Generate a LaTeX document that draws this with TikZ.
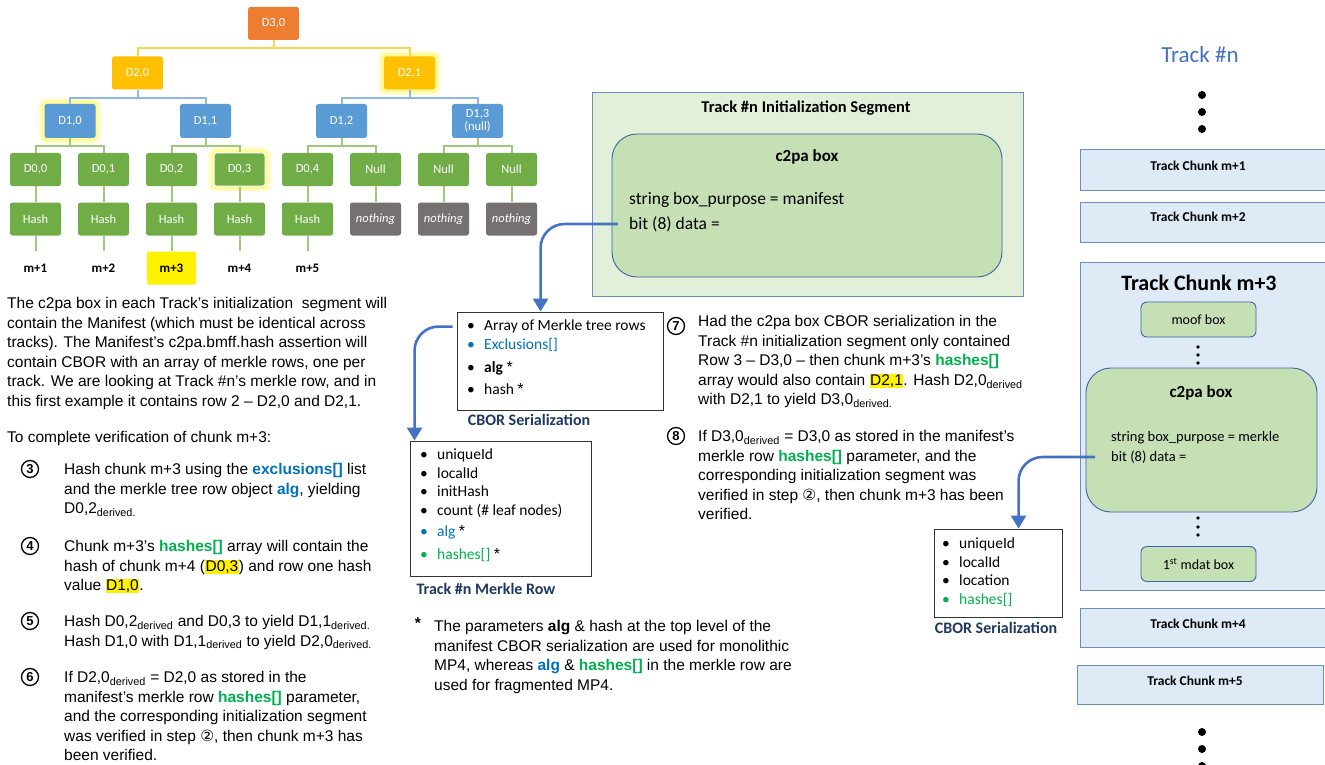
\documentclass[tikz,border=0pt]{standalone}
\usepackage{fontspec}
\setmainfont{Liberation Sans}
\newfontfamily\calfont[Ligatures=TeX]{Carlito}
\newfontfamily\symfont{DejaVu Sans}
\usetikzlibrary{arrows.meta,positioning}

\definecolor{nodeorange}{HTML}{ED7D31}
\definecolor{nodegold}{HTML}{FFC000}
\definecolor{nodeblue}{HTML}{5B9BD5}
\definecolor{nodegreen}{HTML}{70AD47}
\definecolor{nodegray}{HTML}{767171}
\definecolor{edgegold}{HTML}{FFD34D}
\definecolor{edgeblue}{HTML}{8DB8E2}
\definecolor{edgegreen}{HTML}{9CCB7C}
\definecolor{txtblue}{HTML}{0070C0}
\definecolor{txtgreen}{HTML}{00B050}
\definecolor{labelblue}{HTML}{1F3864}
\definecolor{flowblue}{HTML}{4472C4}
\definecolor{segfill}{HTML}{E2F0D9}
\definecolor{boxfill}{HTML}{C5E0B4}
\definecolor{chunkfill}{HTML}{DEEBF7}
\definecolor{frameblue}{HTML}{6C8EBF}
\definecolor{darkframe}{HTML}{3F62A0}

\newcommand{\tbox}[6][]{\node[treebox, fill=#5, #1] (#2) at (#3,#4) {#6};}
\newcommand{\stepnum}[4]{\node[stepcirc] (#1) at (#2,#3) {#4};}
\newcommand{\blu}[1]{\textbf{\color{txtblue}#1}}
\newcommand{\grn}[1]{\textbf{\color{txtgreen}#1}}
\newcommand{\hl}[1]{{\setlength{\fboxsep}{0.5pt}\colorbox{yellow}{#1}}}
\newcommand{\dv}{\textsubscript{derived}}
\newcommand{\bul}[2][black]{\makebox[17pt][l]{\color{#1}\textbullet}{\color{#1}#2}}
\newcommand{\starmark}{{\color{black}\normalfont\fontsize{16}{16}\selectfont *}}
\newcommand{\bigdot}[2]{\fill (#1,#2) circle (4pt);}
\newcommand{\smalldot}[2]{\fill (#1,#2) circle (1.8pt);}

\tikzset{
  treebox/.style={rounded corners=2.5pt, minimum width=51pt, minimum height=33pt, inner sep=1pt,
    text=white, align=center, font=\calfont\fontsize{12.5}{13}\selectfont},
  glow/.style={preaction={draw=yellow, line width=12pt, draw opacity=0.15},
    preaction={draw=yellow, line width=7pt, draw opacity=0.3}},
  goldedge/.style={draw=edgegold, line width=2pt},
  blueedge/.style={draw=edgeblue, line width=2pt},
  greenedge/.style={draw=edgegreen, line width=2pt},
  leaflabel/.style={minimum width=49pt, minimum height=33pt, inner sep=0pt, rounded corners=2pt,
    font=\calfont\bfseries\fontsize{13}{13}\selectfont},
  bodytext/.style={anchor=north west, inner sep=0pt, align=left, font=\fontsize{15.5}{19.6}\selectfont},
  stepcirc/.style={circle, draw, line width=1.3pt, minimum size=17pt, inner sep=0pt,
    font=\bfseries\fontsize{13}{13}\selectfont},
  listbox/.style={draw=black!80, line width=0.9pt, inner sep=0pt},
  listtext/.style={anchor=north west, inner sep=0pt, align=left, font=\calfont\fontsize{15.5}{18.5}\selectfont},
  serlabel/.style={inner sep=0pt, text=labelblue, font=\calfont\bfseries\fontsize{16}{16}\selectfont},
  flow/.style={draw=flowblue, line width=2.6pt, rounded corners=24pt, -{Triangle[length=13pt,width=15pt]}},
  segbox/.style={draw=frameblue, fill=segfill, line width=0.9pt, inner sep=0pt},
  c2pabox/.style={draw=darkframe, fill=boxfill, line width=0.9pt, rounded corners=25pt, inner sep=0pt},
  smallbox/.style={draw=darkframe, fill=boxfill, line width=0.9pt, rounded corners=6pt, inner sep=0pt,
    minimum width=115pt, minimum height=35pt, font=\calfont\fontsize{14}{15}\selectfont},
  chunkbox/.style={draw=frameblue, fill=chunkfill, line width=1pt, inner sep=0pt},
  chunktitle/.style={inner sep=0pt, font=\calfont\bfseries\fontsize{13.5}{14}\selectfont},
  boxline/.style={anchor=west, inner sep=0pt},
}

\begin{document}
\begin{tikzpicture}[x=1pt, y=-1pt]
  \path[use as bounding box, fill=white] (0,0) rectangle (1325,765);

  % merkle tree
  \tbox{d30}{273.5}{23.5}{nodeorange}{D3,0}
  \tbox{d20}{137.5}{73}{nodegold}{D2,0}
  \tbox[glow]{d21}{409.5}{73}{nodegold}{D2,1}
  \tbox[glow, minimum height=34pt]{d10}{70}{121}{nodeblue}{D1,0}
  \tbox[minimum height=34pt]{d11}{205.5}{121}{nodeblue}{D1,1}
  \tbox[minimum height=34pt]{d12}{341.5}{121}{nodeblue}{D1,2}
  \tbox[minimum height=34pt]{d13}{477.5}{121}{nodeblue}{D1,3\\(null)}

  \tbox{d00}{35.5}{169.5}{nodegreen}{D0,0}
  \tbox{d01}{103.5}{169.5}{nodegreen}{D0,1}
  \tbox{d02}{171.5}{169.5}{nodegreen}{D0,2}
  \tbox[glow, draw=white, line width=1pt]{d03}{239.5}{169.5}{nodegreen}{D0,3}
  \tbox{d04}{307.5}{169.5}{nodegreen}{D0,4}
  \tbox{d05}{375.5}{169.5}{nodegreen}{Null}
  \tbox{d06}{443.5}{169.5}{nodegreen}{Null}
  \tbox{d07}{511.5}{169.5}{nodegreen}{Null}

  \tbox{h00}{35.5}{219}{nodegreen}{Hash}
  \tbox{h01}{103.5}{219}{nodegreen}{Hash}
  \tbox{h02}{171.5}{219}{nodegreen}{Hash}
  \tbox{h03}{239.5}{219}{nodegreen}{Hash}
  \tbox{h04}{307.5}{219}{nodegreen}{Hash}
  \tbox{h05}{375.5}{219}{nodegray}{\itshape nothing}
  \tbox{h06}{443.5}{219}{nodegray}{\itshape nothing}
  \tbox{h07}{511.5}{219}{nodegray}{\itshape nothing}

  \node[leaflabel] (m1) at (35.5,268) {m+1};
  \node[leaflabel] (m2) at (103.5,268) {m+2};
  \node[leaflabel, fill=yellow] (m3) at (171.5,268) {m+3};
  \node[leaflabel] (m4) at (239.5,268) {m+4};
  \node[leaflabel] (m5) at (307.5,268) {m+5};

  \draw[goldedge] (d30.south) -- ++(0,8) -| (d20.north);
  \draw[goldedge] (d30.south) -- ++(0,8) -| (d21.north);
  \draw[blueedge] (d20.south) -- ++(0,8) -| (d10.north);
  \draw[blueedge] (d20.south) -- ++(0,8) -| (d11.north);
  \draw[blueedge] (d21.south) -- ++(0,8) -| (d12.north);
  \draw[blueedge] (d21.south) -- ++(0,8) -| (d13.north);
  \draw[greenedge] (d10.south) -- ++(0,7.5) -| (d00.north);
  \draw[greenedge] (d10.south) -- ++(0,7.5) -| (d01.north);
  \draw[greenedge] (d11.south) -- ++(0,7.5) -| (d02.north);
  \draw[greenedge] (d11.south) -- ++(0,7.5) -| (d03.north);
  \draw[greenedge] (d12.south) -- ++(0,7.5) -| (d04.north);
  \draw[greenedge] (d12.south) -- ++(0,7.5) -| (d05.north);
  \draw[greenedge] (d13.south) -- ++(0,7.5) -| (d06.north);
  \draw[greenedge] (d13.south) -- ++(0,7.5) -| (d07.north);

  \draw[greenedge] (d00) -- (h00);
  \draw[greenedge] (d01) -- (h01);
  \draw[greenedge] (d02) -- (h02);
  \draw[greenedge] (d03) -- (h03);
  \draw[greenedge] (d04) -- (h04);
  \draw[greenedge] (d05) -- (h05);
  \draw[greenedge] (d06) -- (h06);
  \draw[greenedge] (d07) -- (h07);
  \draw[greenedge] (h00) -- (m1);
  \draw[greenedge] (h01) -- (m2);
  \draw[greenedge] (h02) -- (m3);
  \draw[greenedge] (h03) -- (m4);
  \draw[greenedge] (h04) -- (m5);

  % left text
  \node[bodytext] (intro) at (7,297) {The c2pa box in each Track's initialization\ \ segment will\\
    contain the Manifest (which must be identical across\\
    tracks). The Manifest's c2pa.bmff.hash assertion will\\
    contain CBOR with an array of merkle rows, one per\\
    track. We are looking at Track \#n's merkle row, and in\\
    this first example it contains row 2 -- D2,0 and D2,1.};
  \node[bodytext] (todo) at (7,431) {To complete verification of chunk m+3:};

  \stepnum{s3}{30}{469}{3}
  \node[bodytext] (t3) at (64,463) {Hash chunk m+3 using the \blu{exclusions[]} list\\
    and the merkle tree row object \blu{alg}, yielding\\
    D0,2\textsubscript{derived.}};
  \stepnum{s4}{30}{546}{4}
  \node[bodytext] (t4) at (64,540) {Chunk m+3's \grn{hashes[]} array will contain the\\
    hash of chunk m+4 (\hl{D0,3}) and row one hash\\
    value \hl{D1,0}.};
  \stepnum{s5}{30}{621}{5}
  \node[bodytext] (t5) at (64,615) {Hash D0,2\dv{} and D0,3 to yield D1,1\textsubscript{derived.}\\
    Hash D1,0 with D1,1\dv{} to yield D2,0\textsubscript{derived.}};
  \stepnum{s6}{30}{677}{6}
  \node[bodytext] (t6) at (64,671) {If D2,0\dv{} = D2,0 as stored in the\\
    manifest's merkle row \grn{hashes[]} parameter,\\
    and the corresponding initialization\ segment\\
    was verified in step {\symfont ②}, then chunk m+3 has\\
    been verified.};

  % init segment
  \node[segbox, minimum width=431pt, minimum height=204pt] (initseg) at (807.5,194) {};
  \node[font=\calfont\bfseries\fontsize{16.5}{17}\selectfont] (initt) at (806,108) {Track \#n Initialization Segment};
  \node[c2pabox, minimum width=390pt, minimum height=143pt] (mbox) at (807,205.5) {};
  \node[font=\calfont\bfseries\fontsize{17}{18}\selectfont] (mboxt) at (807,157) {c2pa box};
  \node[boxline, font=\calfont\fontsize{17.5}{18}\selectfont] (mpurp) at (629,200) {string box\_purpose = manifest};
  \node[boxline, font=\calfont\fontsize{17.5}{18}\selectfont] (mdata) at (629,224) {bit (8) data =};

  % cbor boxes
  \node[listbox, minimum width=206pt, minimum height=98pt] (cbor1) at (560,361) {};
  \node[listtext] (c1list) at (467,320) {\bul{Array of Merkle tree rows}\\
    \bul[txtblue]{Exclusions[]}\\[4.5pt]
    \bul{\textbf{alg} \starmark}\\[3.5pt]
    \bul{hash \starmark}};
  \node[serlabel] (c1lab) at (529,420) {CBOR Serialization};

  \node[listbox, minimum width=181pt, minimum height=135pt] (mrow) at (500.5,508.5) {};
  \node[listtext] (mlist) at (420,449) {\bul{uniqueId}\\
    \bul{localId}\\
    \bul{initHash}\\
    \bul{count (\# leaf nodes)}\\[3pt]
    \bul[txtblue]{alg \starmark}\\[4pt]
    \bul[txtgreen]{hashes[] \starmark}};
  \node[serlabel] (mlab) at (486,589) {Track \#n Merkle Row};

  \node[listbox, minimum width=128pt, minimum height=88pt] (cbor3) at (998,573) {};
  \node[listtext] (c3list) at (942,538) {\bul{uniqueId}\\
    \bul{localId}\\
    \bul{location}\\
    \bul[txtgreen]{hashes[]}};
  \node[serlabel] (c3lab) at (996,628) {CBOR Serialization};

  \draw[flow] ([xshift=-11pt]mdata.west) -| ([xshift=84pt]cbor1.north west);
  \draw[flow] ([shift={(-4pt,-15pt)}]cbor1.north west) -| ([xshift=5pt]mrow.north west);

  % steps 7 and 8
  \stepnum{s7}{676}{326}{7}
  \node[bodytext] (t7) at (698,315) {Had the c2pa box CBOR serialization in the\\
    Track \#n initialization segment only contained\\
    Row 3 -- D3,0 -- then chunk m+3's \grn{hashes[]}\\
    array would also contain \hl{D2,1}. Hash D2,0\dv\\
    with D2,1 to yield D3,0\textsubscript{derived.}};
  \stepnum{s8}{676}{436}{8}
  \node[bodytext] (t8) at (698,430) {If D3,0\dv{} = D3,0 as stored in the manifest's\\
    merkle row \grn{hashes[]} parameter, and the\\
    corresponding initialization segment was\\
    verified in step {\symfont ②}, then chunk m+3 has been\\
    verified.};

  % footnote
  \node[inner sep=0pt, font=\bfseries\fontsize{15.5}{16}\selectfont] (star) at (418,623) {*};
  \node[bodytext] (note) at (434,620) {The parameters \textbf{alg} \& hash at the top level of the\\
    manifest CBOR serialization are used for monolithic\\
    MP4, whereas \blu{alg} \& \grn{hashes[]} in the merkle row are\\
    used for fragmented MP4.};

  % track n
  \node[font=\calfont\fontsize{23}{24}\selectfont, text=flowblue] (trackn) at (1200,55) {Track \#n};
  \bigdot{1202}{95}
  \bigdot{1202}{112}
  \bigdot{1202}{129}

  \node[chunkbox, minimum width=248pt, minimum height=40pt] (ch1) at (1204,170) {};
  \node[chunktitle] (ch1t) at (1198,166) {Track Chunk m+1};
  \node[chunkbox, minimum width=248pt, minimum height=40pt] (ch2) at (1204,222) {};
  \node[chunktitle] (ch2t) at (1198,217) {Track Chunk m+2};

  \node[chunkbox, minimum width=248pt, minimum height=328pt] (ch3) at (1204,426) {};
  \node[chunktitle, font=\calfont\bfseries\fontsize{22}{23}\selectfont] (ch3t) at (1199,283) {Track Chunk m+3};
  \node[smallbox] (moof) at (1198.5,319.5) {moof box};
  \smalldot{1198}{347}
  \smalldot{1198}{355}
  \smalldot{1198}{363}
  \node[c2pabox, minimum width=231pt, minimum height=144pt] (rbox) at (1201.5,440) {};
  \node[font=\calfont\bfseries\fontsize{17}{18}\selectfont] (rboxt) at (1201,393) {c2pa box};
  \node[boxline, font=\calfont\fontsize{14.5}{15}\selectfont] (rpurp) at (1111,438) {string box\_purpose = merkle};
  \node[boxline, font=\calfont\fontsize{14.5}{15}\selectfont] (rdata) at (1111,457) {bit (8) data =};
  \smalldot{1198}{518}
  \smalldot{1198}{527}
  \smalldot{1198}{535}
  \node[smallbox] (mdat) at (1198.5,564) {1\textsuperscript{st} mdat box};

  \node[chunkbox, minimum width=248pt, minimum height=39pt] (ch4) at (1204,627.5) {};
  \node[chunktitle] (ch4t) at (1198,624) {Track Chunk m+4};
  \node[chunkbox, minimum width=246pt, minimum height=39pt] (ch5) at (1200,684.5) {};
  \node[chunktitle] (ch5t) at (1195,681) {Track Chunk m+5};
  \bigdot{1202}{732}
  \bigdot{1202}{749}
  \bigdot{1202}{766}

  \draw[flow] ([xshift=-16pt]rdata.west) -| ([xshift=85pt]cbor3.north west);
\end{tikzpicture}
\end{document}
